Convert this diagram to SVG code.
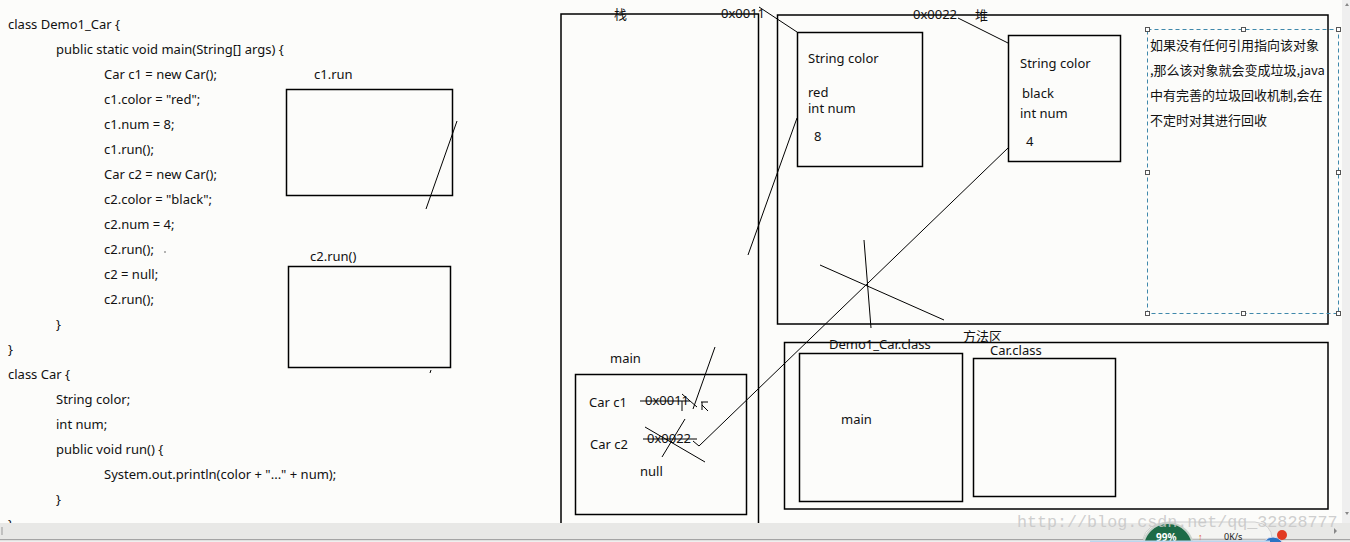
<svg xmlns="http://www.w3.org/2000/svg" width="1350" height="542" viewBox="0 0 1350 542">
<style>
text{font-family:"Noto Sans","Liberation Sans","Noto Sans CJK SC",sans-serif;font-size:13px;fill:#111}
.cjk{font-family:"Noto Sans CJK SC","Noto Sans",sans-serif}
.box{fill:none;stroke:#000;stroke-width:1.5}
.ln{fill:none;stroke:#000;stroke-width:1}
.hd{fill:#fff;stroke:#555;stroke-width:1}
</style>
<rect x="0" y="0" width="1350" height="542" fill="#fcfcfa"/>

<g id="code">
<text x="8" y="29">class Demo1_Car {</text>
<text x="56" y="54">public static void main(String[] args) {</text>
<text x="104" y="79">Car c1 = new Car();</text>
<text x="104" y="104">c1.color = "red";</text>
<text x="104" y="129">c1.num = 8;</text>
<text x="104" y="154">c1.run();</text>
<text x="104" y="179">Car c2 = new Car();</text>
<text x="104" y="204">c2.color = "black";</text>
<text x="104" y="229">c2.num = 4;</text>
<text x="104" y="254">c2.run();</text>
<circle cx="165" cy="252" r="0.7" fill="#333"/>
<text x="104" y="279">c2 = null;</text>
<text x="104" y="304">c2.run();</text>
<text x="56" y="329">}</text>
<text x="8" y="354">}</text>
<text x="8" y="379">class Car {</text>
<text x="56" y="404">String color;</text>
<text x="56" y="429">int num;</text>
<text x="56" y="454">public void run() {</text>
<text x="104" y="479">System.out.println(color + "..." + num);</text>
<text x="56" y="504">}</text>
<text x="8" y="529">}</text>
</g>

<g id="c1run">
<text x="314" y="79">c1.run</text>
<rect class="box" x="286.5" y="89.5" width="166" height="106"/>
</g>
<g id="c2run">
<text x="310" y="261">c2.run()</text>
<rect class="box" x="288.5" y="266.5" width="162" height="101"/>
<path class="ln" d="M431 370 L430 373"/>
</g>

<g id="stack">
<path class="box" d="M561 524 V14 H758.5 V524"/>
<text class="cjk" x="614" y="19">栈</text>
<text x="721" y="18">0x0011</text>
</g>

<g id="heap">
<rect class="box" x="777.5" y="15" width="550.5" height="309"/>
<text x="913" y="19">0x0022</text>
<text class="cjk" x="975" y="20">堆</text>
</g>

<g id="obj1">
<rect class="box" x="797.5" y="32.5" width="125" height="134"/>
<text x="808" y="63">String color</text>
<text x="808" y="97">red</text>
<text x="808" y="113">int num</text>
<text x="814" y="141">8</text>
</g>

<g id="obj2">
<rect class="box" x="1008.5" y="35.5" width="112" height="126"/>
<text x="1020" y="68">String color</text>
<text x="1022" y="98">black</text>
<text x="1020" y="118">int num</text>
<text x="1026" y="146">4</text>
</g>

<g id="note">
<rect x="1147.5" y="29.5" width="191" height="284" fill="none" stroke="#3f88ab" stroke-width="1" stroke-dasharray="4,3"/>
<rect class="hd" x="1145.5" y="27.5" width="4" height="4"/>
<rect class="hd" x="1241.5" y="27.5" width="4" height="4"/>
<rect class="hd" x="1336.5" y="27.5" width="4" height="4"/>
<rect class="hd" x="1145.5" y="170.5" width="4" height="4"/>
<rect class="hd" x="1336.5" y="170.5" width="4" height="4"/>
<rect class="hd" x="1145.5" y="311.5" width="4" height="4"/>
<rect class="hd" x="1241.5" y="311.5" width="4" height="4"/>
<rect class="hd" x="1336.5" y="311.5" width="4" height="4"/>
<text class="cjk" x="1150" y="50">如果没有任何引用指向该对象</text>
<text class="cjk" x="1150" y="75">,那么该对象就会变成垃圾,java</text>
<text class="cjk" x="1150" y="100">中有完善的垃圾回收机制,会在</text>
<text class="cjk" x="1150" y="125">不定时对其进行回收</text>
</g>

<g id="mainframe">
<text x="610" y="363">main</text>
<rect class="box" x="575.5" y="374.5" width="171" height="140"/>
<text x="589" y="407">Car c1</text>
<text x="645" y="405">0x0011</text>
<text x="590" y="449">Car c2</text>
<text x="647" y="443">0x0022</text>
<text x="640" y="476">null</text>
</g>

<g id="methodarea">
<text class="cjk" x="963" y="341">方法区</text>
<rect class="box" x="784.5" y="342.5" width="543.5" height="166.5"/>
</g>
<g id="democlass">
<text x="829" y="349">Demo1_Car.class</text>
<rect class="box" x="799.5" y="353.5" width="163" height="148"/>
<text x="841" y="424">main</text>
</g>
<g id="carclass">
<text x="990" y="355">Car.class</text>
<rect class="box" x="973.5" y="358.5" width="142" height="138"/>
</g>

<g id="connectors">
<path class="ln" d="M759 7 L797 32"/>
<path class="ln" d="M958 18 L1008 43"/>
<path class="ln" d="M797 118 L748 255"/>
<path class="ln" d="M1008 148 L699 446 L693 441"/>
<path class="ln" d="M715 347 L693 409"/>
<path class="ln" d="M457 121 L426 209"/>
<path class="ln" d="M864 240 L871 328"/>
<path class="ln" d="M820 265 L944 320"/>
<path class="ln" d="M640 401 H690"/>
<path class="ln" d="M682 401 V411"/>
<path class="ln" d="M682 394 L697 407"/>
<path class="ln" d="M701 402 H708 M702 402 V410 M702 405 L708 411"/>
<path class="ln" d="M643 439 H697"/>
<path class="ln" d="M645 427 L705 462"/>
<path class="ln" d="M685 419 L662 457"/>
</g>

<g id="chrome">
<rect x="1342" y="0" width="8" height="523" fill="#efefef"/>
<path d="M1345 6 L1347 3 L1349 6 Z" fill="#888"/>
<path d="M1345 512 L1347 515 L1349 512 Z" fill="#888"/>
<rect x="0" y="523" width="1350" height="16" fill="#e8e8e6"/>
<rect x="0" y="539" width="1350" height="1.5" fill="#a4a4a4"/>
<rect x="0" y="540.5" width="1350" height="1.5" fill="#efefef"/>
<path d="M2 527 V535" stroke="#999" stroke-width="1"/>
<path d="M1334 528 L1337 531 L1334 534 Z" fill="#888"/>
<path d="M1143 539 Q1146 524 1168 522 L1255 522 Q1272 524 1272 539 Z" fill="#f4f4f2" stroke="#cfcfcf" stroke-width="1"/>
<circle cx="1168" cy="548" r="25" fill="#1d6b47" stroke="#c9d2cc" stroke-width="2"/>
<text x="1156" y="541" style="font-size:10px;fill:#fff;font-weight:bold">99%</text>
<text x="1198" y="540" style="font-size:9px;fill:#e0561d;font-weight:bold">↑</text>
<text x="1224" y="540" style="font-size:9px;fill:#222">0K/s</text>
<circle cx="1273" cy="548" r="11" fill="#2a73c4" stroke="#dde" stroke-width="1"/>
<circle cx="1282" cy="535" r="5" fill="#e23a22"/>
<rect x="1090" y="540.5" width="180" height="1.5" fill="#bcd6ee"/>
<text x="1017" y="527" style="font-family:'Liberation Mono',monospace;font-size:16.7px;fill:#c6c6c6;fill-opacity:0.85">http://blog.csdn.net/qq_32828777</text>
</g>
</svg>
